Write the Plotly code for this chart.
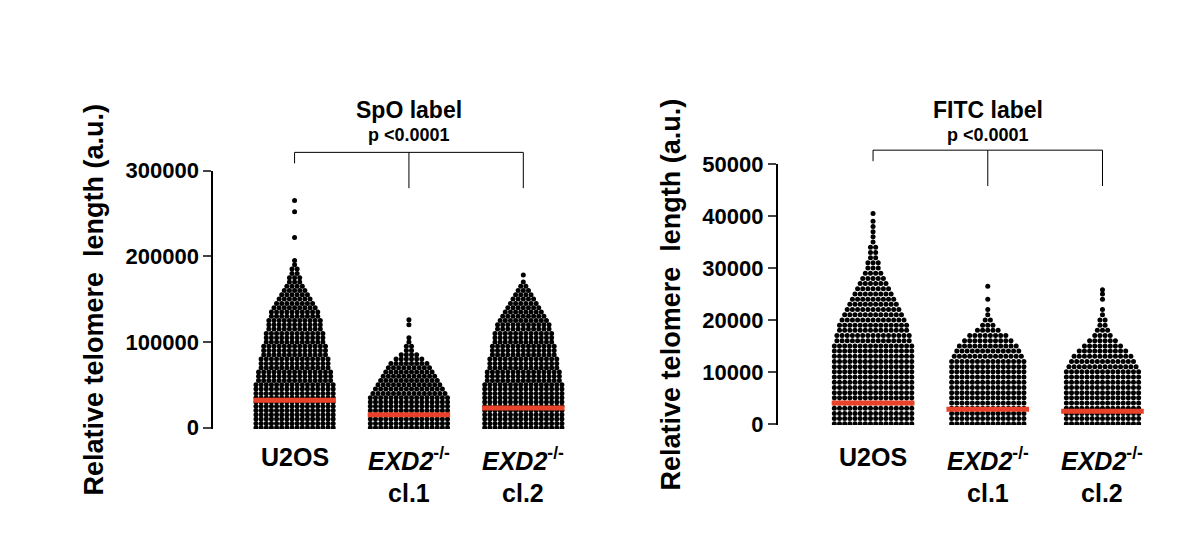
'''telomere length dot plots (SpO / FITC)'''
from plotly.graph_objects import Figure, Scatter

# group names
groups = ["U2OS", "<i>EXD2</i><sup>-/-</sup><br>cl.1", "<i>EXD2</i><sup>-/-</sup><br>cl.2"]

# SpO: number of dots per 5000 a.u. level, starting at 0
spo_step = 5000
spo_u2os = [16,16,16,16,16,16,16,16,16,16,16,15,15,15,14,14,14,13,13,13,12,12,12,11,11,11,10,10,9,8,7,6,5,4,3,3,2,2,1,1]
spo_cl1 = [16,16,16,16,16,16,16,16,15,14,13,12,11,10,9,8,6,4,2,2,1]
spo_cl2 = [16,16,16,16,16,16,16,16,16,16,16,15,15,15,14,14,14,13,13,13,12,12,12,11,11,10,9,8,7,6,5,4,3,2,1]
spo_out = [[222000, 252000, 265000], [105000, 120000, 126000], [178000]]
spo_med = [32000, 15000, 23000]

# FITC: number of dots per 1000 a.u. level
fitc_step = 1000
fitc_u2os = [16,16,16,16,16,16,16,16,16,16,16,16,16,16,16,16,15,15,14,14,13,12,11,10,9,8,7,6,5,4,3,3,2,2,2,1,1,1,1,1]
fitc_cl1 = [15,15,15,15,15,15,15,15,15,15,15,15,15,14,13,12,10,8,5,3,2,1,1,0,1]
fitc_cl2 = [15,15,15,15,15,15,15,15,15,15,15,14,13,12,10,8,6,4,3,2,2,1,1]
fitc_out = [[40500], [26500], [24000, 25000, 25800]]
fitc_med = [4000, 2800, 2400]

DX = 0.045


def swarm(i, counts, step, extra):
    xs, ys = [], []
    for lev, n in enumerate(counts):
        for k in range(n):
            xs.append(i + (k - (n - 1) / 2) * DX)
            ys.append(lev * step)
    for v in extra:
        xs.append(i)
        ys.append(v)
    return xs, ys


fig = Figure()
font = dict(family="Liberation Sans, Arial", color="black")

panels = [
    ("x", "y", [spo_u2os, spo_cl1, spo_cl2], spo_step, spo_out, spo_med),
    ("x2", "y2", [fitc_u2os, fitc_cl1, fitc_cl2], fitc_step, fitc_out, fitc_med),
]
for xa, ya, cnts, step, outs, meds in panels:
    for i, c in enumerate(cnts):
        xs, ys = swarm(i, c, step, outs[i])
        fig.add_trace(Scatter(x=xs, y=ys, mode="markers", xaxis=xa, yaxis=ya,
                              marker=dict(size=5, color="black"), showlegend=False))
        fig.add_trace(Scatter(x=[i - 0.36, i + 0.36], y=[meds[i], meds[i]], mode="lines",
                              xaxis=xa, yaxis=ya, line=dict(color="#e8432a", width=5),
                              showlegend=False))

axis_y = dict(showline=True, linewidth=2, linecolor="black", ticks="outside", tickwidth=2,
              ticklen=8, showgrid=False, zeroline=False, automargin=False,
              tickfont=dict(size=22, weight="bold", **font),
              title=dict(text="<b>Relative telomere  length (a.u.)</b>", standoff=14,
                         font=dict(size=27, **font)))
axis_x = dict(showline=False, showgrid=False, zeroline=False,
              showticklabels=False, ticks="", automargin=False)

fig.update_layout(
    width=1201, height=551, plot_bgcolor="white", paper_bgcolor="white",
    margin=dict(l=0, r=0, t=0, b=0),
    xaxis=dict(axis_x, domain=[0.171, 0.49], range=[-0.71, 2.64], anchor="y"),
    yaxis=dict(axis_y, domain=[0.236, 0.705], range=[-1500, 300000], anchor="x",
               tickvals=[0, 100000, 200000, 300000], tickformat="d"),
    xaxis2=dict(axis_x, domain=[0.641, 0.982], range=[-0.83, 2.74], anchor="y2"),
    yaxis2=dict(axis_y, domain=[0.243, 0.7166], range=[-250, 50000], anchor="x2",
                tickvals=[0, 10000, 20000, 30000, 40000, 50000], tickformat="d"),
)

for xr, top in [("x", 0.738), ("x2", 0.742)]:
    title = "SpO label" if xr == "x" else "FITC label"
    for i, g in enumerate(groups):
        fig.add_annotation(x=i, y=0.215, xref=xr, yref="paper", text="<b>" + g + "</b>",
                           showarrow=False, yanchor="top", font=dict(size=25, **font))
    fig.add_annotation(x=1, y=0.815, xref=xr, yref="paper", text="<b>" + title + "</b>",
                       showarrow=False, yanchor="middle", font=dict(size=23, **font))
    fig.add_annotation(x=1, y=0.77, xref=xr, yref="paper", text="<b>p <0.0001</b>",
                       showarrow=False, yanchor="middle", font=dict(size=18, **font))
    line = dict(color="black", width=1)
    fig.add_shape(type="line", xref=xr, yref="paper", x0=0, x1=2, y0=top, y1=top, line=line)
    fig.add_shape(type="line", xref=xr, yref="paper", x0=0, x1=0, y0=top, y1=top - 0.02, line=line)
    fig.add_shape(type="line", xref=xr, yref="paper", x0=1, x1=1, y0=top, y1=top - 0.065, line=line)
    fig.add_shape(type="line", xref=xr, yref="paper", x0=2, x1=2, y0=top, y1=top - 0.065, line=line)

fig.write_html("out.html")
